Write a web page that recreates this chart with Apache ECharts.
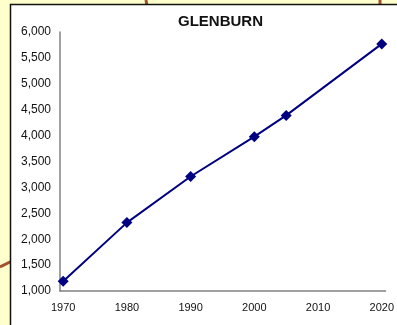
<!DOCTYPE html>
<html>
<head>
<meta charset="utf-8">
<script src="https://cdn.jsdelivr.net/npm/echarts@6/dist/echarts.min.js"></script>
<style>
  html, body { margin: 0; padding: 0; background: #FFFFCC; }
  #chart { width: 397px; height: 325px; }
</style>
</head>
<body>
<div id="chart"></div>
<script>
// Glenburn population by census year
const chartTitle = 'GLENBURN';
const years = [1970, 1980, 1990, 2000, 2005, 2020];
const population = [1190, 2320, 3210, 3980, 4390, 5770];
const yearTicks = [1970, 1980, 1990, 2000, 2010, 2020];
const popTicks = [1000, 1500, 2000, 2500, 3000, 3500, 4000, 4500, 5000, 5500, 6000];

const chart = echarts.init(document.getElementById('chart'), null, { renderer: 'canvas' });

const font = 'Liberation Sans';

chart.setOption({
  backgroundColor: 'transparent',
  animation: false,
  graphic: [
    // map roads peeking out around the panel
    { type: 'polyline', z: -10, shape: { points: [[146, 0], [147, 6]] },
      style: { stroke: '#A0522D', lineWidth: 3, fill: null } },
    { type: 'polyline', z: -10, shape: { points: [[380, 0], [380, 6]] },
      style: { stroke: '#A0522D', lineWidth: 3, fill: null } },
    { type: 'polyline', z: -10, shape: { points: [[0, 267], [12, 261]] },
      style: { stroke: '#A0522D', lineWidth: 3, fill: null } },
    // chart panel
    { type: 'rect', z: -5, shape: { x: 10.5, y: 4.5, width: 400, height: 340 },
      style: { fill: '#FFFFFF', stroke: '#111111', lineWidth: 1.5 } }
  ],
  title: {
    text: chartTitle,
    left: 173,
    top: 9,
    textStyle: { fontFamily: font, fontSize: 15, fontWeight: 'bold', color: '#111' }
  },
  grid: { left: 60, right: 11, top: 32, bottom: 34 },
  xAxis: {
    type: 'value',
    min: 1969.5,
    max: 2020.6,
    splitLine: { show: false },
    axisTick: { show: false },
    axisLine: { show: true, lineStyle: { color: '#808080', width: 1.5 } },
    axisLabel: {
      customValues: yearTicks,
      margin: 11,
      fontFamily: font, fontSize: 11, color: '#111',
      formatter: v => String(v),
      showMinLabel: true, showMaxLabel: true
    }
  },
  yAxis: {
    type: 'value',
    min: popTicks[0],
    max: popTicks[popTicks.length - 1],
    interval: 500,
    splitLine: { show: false },
    axisTick: { show: false },
    axisLine: { show: true, lineStyle: { color: '#808080', width: 1.5 } },
    axisLabel: {
      margin: 9,
      fontFamily: font, fontSize: 12, color: '#111',
      formatter: v => v.toLocaleString('en-US')
    }
  },
  series: [{
    type: 'line',
    data: years.map((y, i) => [y, population[i]]),
    symbol: 'diamond',
    symbolSize: 11,
    lineStyle: { color: '#000080', width: 2 },
    itemStyle: { color: '#000080' },
    clip: false
  }]
});
</script>
</body>
</html>
